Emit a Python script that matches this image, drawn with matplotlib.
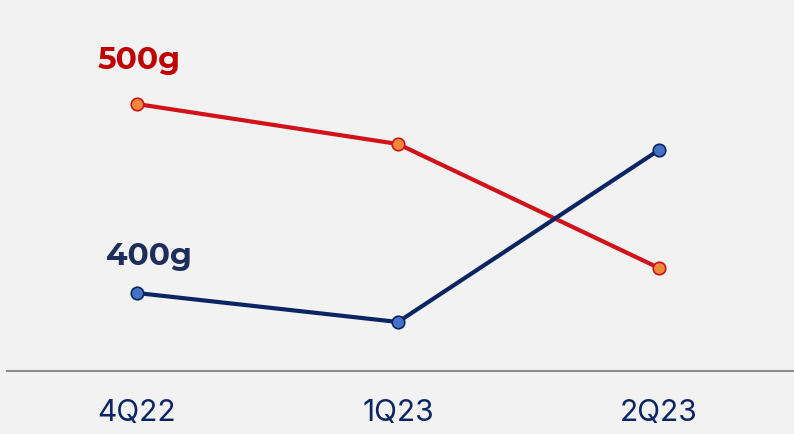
import matplotlib
matplotlib.use("Agg")
import matplotlib.pyplot as plt

# quarters and series (heights above the baseline, arbitrary units)
quarters = ["4Q22", "1Q23", "2Q23"]
pack_500g = [267, 227, 103]
pack_400g = [78, 49, 221]

BG = "#f2f2f2"
RED = "#d0121b"
ORANGE = "#f0883a"
NAVY = "#0b2463"
BLUE = "#4472c4"

# the plain Montserrat file here is a thin variable font, so use the static Alternates cut
# for the series labels; its Q is odd, so tick labels go in Inter
plt.rcParams["font.family"] = ["Montserrat Alternates", "Lato", "DejaVu Sans"]

fig = plt.figure(figsize=(7.94, 4.34), dpi=100, facecolor=BG)
ax = fig.add_axes([7 / 794, 63 / 434, 787 / 794, 371 / 434])
ax.set_facecolor(BG)

x = list(range(len(quarters)))
ax.plot(x, pack_500g, color=RED, lw=3, marker="o", ms=9,
        mfc=ORANGE, mec=RED, mew=1.2, zorder=3)
ax.plot(x, pack_400g, color=NAVY, lw=3, marker="o", ms=9,
        mfc=BLUE, mec=NAVY, mew=1.2, zorder=3)

# series labels above the first point
ax.annotate("500g", (x[0], pack_500g[0]), xytext=(1.4, 25), textcoords="offset points",
            ha="center", va="baseline", fontsize=22.5, fontweight="bold", color="#c00000")
ax.annotate("400g", (x[0], pack_400g[0]), xytext=(8.5, 20), textcoords="offset points",
            ha="center", va="baseline", fontsize=22.5, fontweight="bold", color="#1f2d5a")

ax.set_xlim(-130 / 261, 657 / 261)
ax.set_ylim(0, 371)
ax.set_xticks(x)
ax.set_xticklabels(quarters, fontsize=21.5, color=NAVY, family=["Inter", "DejaVu Sans"])
ax.tick_params(axis="x", length=0, pad=20)
ax.set_yticks([])
for side in ["top", "left", "right"]:
    ax.spines[side].set_visible(False)
ax.spines["bottom"].set_color("#8c8c8c")
ax.spines["bottom"].set_linewidth(1.5)

fig.savefig("out.png", dpi=100, facecolor=BG)
